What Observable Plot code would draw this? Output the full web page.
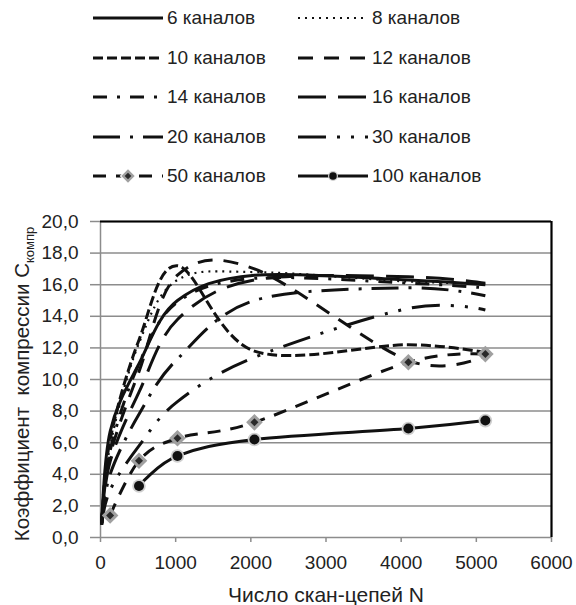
<!DOCTYPE html>
<html>
<head>
<meta charset="utf-8">
<script src="https://cdn.jsdelivr.net/npm/d3@7"></script>
<script src="https://cdn.jsdelivr.net/npm/@observablehq/plot@0.6"></script>
<style>
  body { margin: 0; background: #fff; font-family: "Liberation Sans", Arial, sans-serif; color: #222; }
  #chart { position: relative; width: 576px; height: 605px; }
  #legend { position: relative; width: 576px; height: 200px; }
  .item { position: absolute; height: 24px; display: flex; align-items: center; font-size: 19px; white-space: nowrap; }
  .item svg { display: block; margin-right: 4px; }
  #plot svg { display: block; }
</style>
</head>
<body>
<div id="chart">
  <div id="legend"></div>
  <div id="plot"></div>
</div>
<script>
// Number of scan chains N (shared by most series)
const N = [16, 128, 512, 1024, 2048, 4096, 5120];
const N50 = [128, 512, 1024, 2048, 4096, 5120];
const N100 = [512, 1024, 2048, 4096, 5120];

// Compression ratio per channel count
const ch6   = [0.8, 6.7, 11.0, 15.0, 16.6, 16.3, 16.0];
const ch8   = [0.8, 5.8, 12.3, 16.3, 16.8, 16.2, 16.1];
const ch10  = [0.9, 6.2, 12.5, 17.2, 11.8, 12.2, 11.7];
const ch12  = [0.9, 5.2, 10.5, 16.6, 17.0, 11.2, 11.5];
const ch14  = [0.9, 5.5, 11.0, 14.9, 16.4, 16.1, 15.8];
const ch16  = [0.9, 4.8, 9.2, 13.8, 16.3, 16.5, 16.1];
const ch20  = [0.9, 4.0, 7.8, 11.3, 15.0, 15.8, 15.3];
const ch30  = [0.8, 3.0, 5.8, 8.6, 11.4, 14.5, 14.4];
const ch50  = [1.4, 4.86, 6.28, 7.29, 11.09, 11.61];
const ch100 = [3.26, 5.16, 6.2, 6.9, 7.4];

const labels = ["6 каналов", "8 каналов", "10 каналов", "12 каналов", "14 каналов",
                "16 каналов", "20 каналов", "30 каналов", "50 каналов", "100 каналов"];
const xTicks = [0, 1000, 2000, 3000, 4000, 5000, 6000];
const yTicks = [0, 2, 4, 6, 8, 10, 12, 14, 16, 18, 20];

const series = [
  {name: labels[0], xs: N, ys: ch6, dash: null},
  {name: labels[1], xs: N, ys: ch8, dash: "2,5", width: 2.2},
  {name: labels[2], xs: N, ys: ch10, dash: "10,4"},
  {name: labels[3], xs: N, ys: ch12, dash: "15,11"},
  {name: labels[4], xs: N, ys: ch14, dash: "14,10,3,10"},
  {name: labels[5], xs: N, ys: ch16, dash: "28,12"},
  {name: labels[6], xs: N, ys: ch20, dash: "27,10,3,10"},
  {name: labels[7], xs: N, ys: ch30, dash: "28,11,3,11,3,11"},
  {name: labels[8], xs: N50, ys: ch50, dash: "13,10", marker: "diamond"},
  {name: labels[9], xs: N100, ys: ch100, dash: null, marker: "circle"}
];
const rowsOf = s => s.xs.map((x, i) => ({x, y: s.ys[i]}));

const ink = "#111";
const grid = "#8c8c8c";
const fmtY = d => d.toFixed(1).replace(".", ",");

const marks = [
  Plot.gridY(yTicks, {stroke: grid, strokeOpacity: 1, strokeWidth: 1.5}),
  Plot.ruleX([0], {stroke: grid, strokeWidth: 1.5}),
  Plot.ruleY([20], {stroke: "#000", strokeWidth: 2.2}),
  Plot.ruleX([6000], {stroke: "#000", strokeWidth: 2.2}),
  Plot.axisX({ticks: xTicks, tickFormat: d => String(d), tickSize: 5, tickPadding: 13, stroke: grid, strokeWidth: 1.5, label: null, fill: "#222"}),
  Plot.axisY({ticks: yTicks, tickFormat: fmtY, tickSize: 10, tickPadding: 12, stroke: grid, strokeWidth: 1.5, label: null, fill: "#222"}),
  Plot.text(["Число скан-цепей N"], {frameAnchor: "bottom", dy: 58, lineAnchor: "middle", fontSize: 21, fill: "#222"})
];

for (const s of series) {
  marks.push(Plot.line(rowsOf(s), {
    x: "x", y: "y", curve: "cardinal", stroke: ink,
    strokeWidth: s.width || 3, strokeDasharray: s.dash || undefined,
    strokeLinecap: "butt", clip: true
  }));
}
for (const s of series) {
  if (s.marker === "diamond") {
    marks.push(Plot.dot(rowsOf(s), {x: "x", y: "y", symbol: "diamond2", r: 7.5, fill: "#a0a0a0", stroke: "none"}));
    marks.push(Plot.dot(rowsOf(s), {x: "x", y: "y", symbol: "diamond2", r: 3.6, fill: "#2a2a2a", stroke: "none"}));
  } else if (s.marker === "circle") {
    marks.push(Plot.dot(rowsOf(s), {x: "x", y: "y", r: 6.8, fill: "#cfcfcf", stroke: "none"}));
    marks.push(Plot.dot(rowsOf(s), {x: "x", y: "y", r: 5, fill: ink, stroke: "none"}));
  }
}

const chart = Plot.plot({
  width: 576,
  height: 405,
  marginLeft: 100,
  marginRight: 25,
  marginTop: 21,
  marginBottom: 68,
  style: {fontFamily: "'Liberation Sans', Arial, sans-serif", fontSize: "19px", color: "#222", background: "#fff"},
  x: {domain: [0, 6000]},
  y: {domain: [0, 20]},
  marks
});

// Rotated y-axis title with the subscript
const svg = d3.select(chart);
const title = svg.append("text")
  .attr("transform", "translate(29,184) rotate(-90)")
  .attr("text-anchor", "middle")
  .attr("font-size", 20.5)
  .attr("fill", "#222");
title.append("tspan").text("Коэффициент  компрессии C");
title.append("tspan").attr("font-size", 13).attr("dy", 5).text("компр");

document.getElementById("plot").appendChild(chart);

// Legend: two columns, five rows
const legend = document.getElementById("legend");
series.forEach((s, i) => {
  const col = i % 2, row = Math.floor(i / 2);
  const item = document.createElement("div");
  item.className = "item";
  item.style.left = (col === 0 ? 93 : 298) + "px";
  item.style.top = (18.3 + row * 39.5 - 12) + "px";
  const w = 70;
  const sw = d3.create("svg").attr("width", w).attr("height", 24);
  sw.append("line").attr("x1", 0).attr("x2", w).attr("y1", 12).attr("y2", 12)
    .attr("stroke", ink).attr("stroke-width", s.width ? s.width : 3)
    .attr("stroke-dasharray", s.dash);
  if (s.marker === "diamond") {
    sw.append("path").attr("d", d3.symbol(d3.symbolDiamond2, Math.PI * 7.5 * 7.5)()).attr("transform", `translate(${w / 2},12)`).attr("fill", "#fff");
    sw.append("path").attr("d", d3.symbol(d3.symbolDiamond2, Math.PI * 6 * 6)()).attr("transform", `translate(${w / 2},12)`).attr("fill", "#a0a0a0");
    sw.append("path").attr("d", d3.symbol(d3.symbolDiamond2, Math.PI * 3 * 3)()).attr("transform", `translate(${w / 2},12)`).attr("fill", "#2a2a2a");
  } else if (s.marker === "circle") {
    sw.append("circle").attr("cx", w / 2).attr("cy", 12).attr("r", 5).attr("fill", "#cfcfcf");
    sw.append("circle").attr("cx", w / 2).attr("cy", 12).attr("r", 3.8).attr("fill", ink);
  }
  item.appendChild(sw.node());
  const span = document.createElement("span");
  span.textContent = s.name;
  item.appendChild(span);
  legend.appendChild(item);
});
</script>
</body>
</html>
